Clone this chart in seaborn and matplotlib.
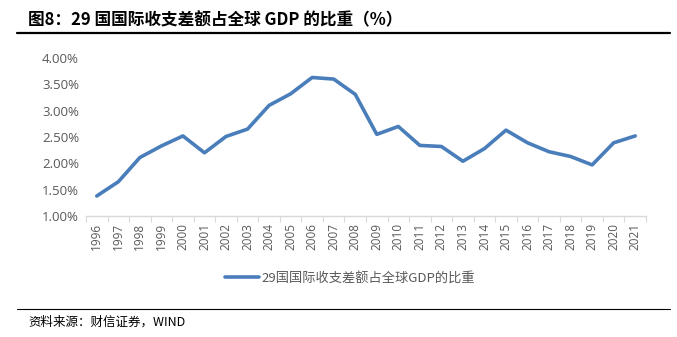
import matplotlib
matplotlib.use("Agg")
import matplotlib.pyplot as plt
import seaborn as sns
import pandas as pd
import numpy as np
from matplotlib.ticker import FixedLocator, FuncFormatter

years = [str(y) for y in range(1996, 2022)]
share = [1.38, 1.65, 2.11, 2.33, 2.52, 2.20, 2.51, 2.65, 3.10, 3.32, 3.63, 3.60,
         3.31, 2.55, 2.70, 2.34, 2.32, 2.04, 2.28, 2.63, 2.39, 2.22, 2.13, 1.97,
         2.39, 2.52]
series_name = "29国国际收支差额占全球GDP的比重"
title_text = "图8：29 国国际收支差额占全球 GDP 的比重（%）"
source_text = "资料来源：财信证券，WIND"
yticks = [1.0, 1.5, 2.0, 2.5, 3.0, 3.5, 4.0]

sns.set_theme(style="white")
plt.rcParams['font.family'] = ['Noto Sans CJK SC', 'DejaVu Sans']

df = pd.DataFrame({"year": years, "value": share, "series": series_name})

fig = plt.figure(figsize=(6.77, 3.37), dpi=100)
ax = fig.add_axes([86/677, 1-216/337, (646-86)/677, (216-58)/337])

line_color = "#4A7EBB"
sns.lineplot(data=df, x="year", y="value", hue="series", palette=[line_color],
             linewidth=2.6, ax=ax, sort=False)

ax.set_xlim(-0.5, len(years)-0.5)
ax.set_ylim(1.0, 4.0)
ax.set_yticks(yticks)
ax.yaxis.set_major_formatter(FuncFormatter(lambda v, p: f"{v:.2f}%"))
ax.set_xlabel("")
ax.set_ylabel("")

tick_color = "#595959"
ax.tick_params(axis="y", length=0, pad=5, labelsize=9.5, labelcolor=tick_color)
for lab in ax.get_yticklabels():
    lab.set_family(['Open Sans', 'DejaVu Sans'])
ax.set_xticks(range(len(years)))
ax.set_xticklabels(years, rotation=90, fontsize=8.5, color=tick_color,
                   family=['Open Sans', 'DejaVu Sans'])
ax.tick_params(axis="x", which="major", length=0, pad=5)
ax.xaxis.set_minor_locator(FixedLocator(np.arange(-0.5, len(years), 1.0)))
ax.tick_params(axis="x", which="minor", length=4, width=0.8, color="#D9D9D9",
               direction="out")
ax.tick_params(axis="x", which="minor", bottom=True)

for s in ["top", "right", "left"]:
    ax.spines[s].set_visible(False)
ax.spines["bottom"].set_color("#D9D9D9")
ax.spines["bottom"].set_linewidth(1.0)
ax.grid(False)

leg = ax.legend(loc="center", bbox_to_anchor=((350-86)/(646-86), (216-278)/(216-58)),
                frameon=False, fontsize=9.5, handlelength=2.6, handletextpad=0.2)
for t in leg.get_texts():
    t.set_color(tick_color)

fig.text(28/677, 1-20/337, title_text, fontsize=12, fontweight="bold",
         va="center", ha="left", color="black")
fig.add_artist(plt.Line2D([17/677, 670/677], [1-33/337, 1-33/337],
                          color="black", linewidth=1.6, transform=fig.transFigure))
fig.add_artist(plt.Line2D([17/677, 670/677], [1-309/337, 1-309/337],
                          color="black", linewidth=0.8, transform=fig.transFigure))
fig.text(28/677, 1-322/337, source_text, fontsize=9, style="italic",
         va="center", ha="left", color="black")

fig.savefig("out.png", dpi=100)
